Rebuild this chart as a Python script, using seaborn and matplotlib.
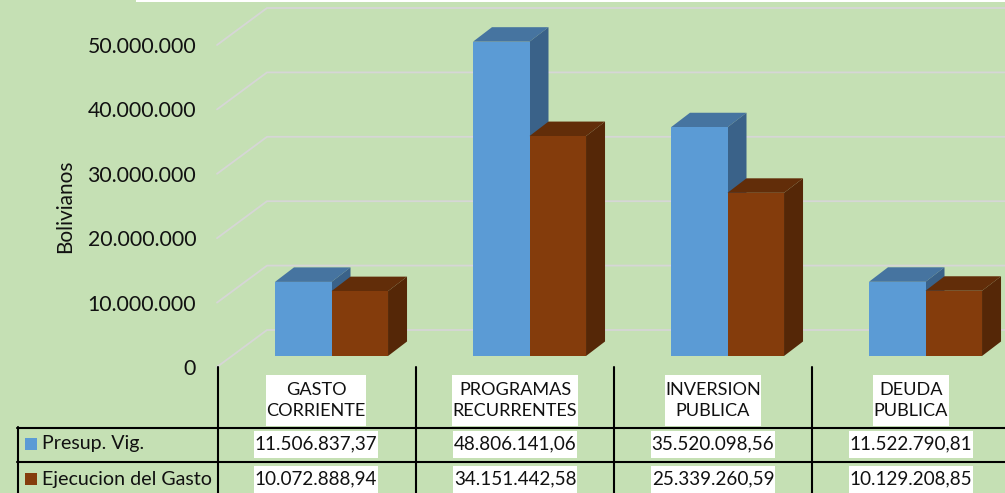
import numpy as np
import pandas as pd
import seaborn as sns
import matplotlib
matplotlib.use('Agg')
import matplotlib.pyplot as plt
from matplotlib.lines import Line2D
from matplotlib.patches import Polygon, Rectangle

# values
categories = ['GASTO\nCORRIENTE', 'PROGRAMAS\nRECURRENTES', 'INVERSION\nPUBLICA', 'DEUDA\nPUBLICA']
presup = [11506837.37, 48806141.06, 35520098.56, 11522790.81]
ejecucion = [10072888.94, 34151442.58, 25339260.59, 10129208.85]
presup_labels = ['11.506.837,37', '48.806.141,06', '35.520.098,56', '11.522.790,81']
ejecucion_labels = ['10.072.888,94', '34.151.442,58', '25.339.260,59', '10.129.208,85']
series_names = ['Presup. Vig.', 'Ejecucion del Gasto']
y_ticks = [0, 10000000, 20000000, 30000000, 40000000, 50000000]
y_tick_labels = ['0', '10.000.000', '20.000.000', '30.000.000', '40.000.000', '50.000.000']

W, H = 1005, 493
BG = '#C5E0B4'
GRID = '#D6D6D6'
BLUE, BLUE_TOP, BLUE_SIDE = '#5B9BD5', '#4674A0', '#3A6289'
BROWN, BROWN_TOP, BROWN_SIDE = '#843C0C', '#622D09', '#552707'

sns.set_theme(style='white')
plt.rcParams['font.family'] = ['Lato', 'DejaVu Sans']

fig = plt.figure(figsize=(W / 100, H / 100), dpi=100, facecolor=BG)


def fx(x):
    return x / W


def fy(y):
    return 1 - y / H


# back wall axes, x is in pixels so the wall depth can be given directly
wall = fig.add_axes([fx(217), fy(367), fx(1005 - 217), 322 / H], zorder=1)
wall.patch.set_visible(False)
wall.set_xlim(217, 1005)
wall.set_ylim(0, 50000000)
wall.set_xticks([])
wall.set_yticks(y_ticks)
wall.set_yticklabels(y_tick_labels, fontsize=15.3, color='#111111')
wall.tick_params(axis='y', length=0, pad=15)
sns.despine(ax=wall, left=True, bottom=True)
wall_depth = 37 / 322 * 50000000
for t in y_ticks:
    wall.plot([217, 267, 1005], [t, t + wall_depth, t + wall_depth], color=GRID, lw=1.3, clip_on=False)

# the bars, zero sits on the floor at pixel 356, 6.44 px per million
ax = fig.add_axes([0, 0, 1, 1], zorder=2)
ax.patch.set_visible(False)
df = pd.DataFrame({
    'cat': categories * 2,
    'serie': [series_names[0]] * 4 + [series_names[1]] * 4,
    'valor': presup + ejecucion,
})
sns.barplot(data=df, x='cat', y='valor', hue='serie', hue_order=series_names, order=categories,
            palette=[BLUE, BROWN], width=0.571, gap=0, saturation=1, legend=False, linewidth=0, ax=ax)
ax.set_xlim(-331.5 / 198, (W - 331.5) / 198)
px_per_val = 6.44 / 1000000
ax.set_ylim(-(H - 356) / px_per_val, 356 / px_per_val)
ax.axis('off')

# fake 3d: top and side of every bar, taken from the bar itself
dx = 19 / 198
dy = 14.5 / px_per_val
faces = [(BLUE_TOP, BLUE_SIDE)] * 4 + [(BROWN_TOP, BROWN_SIDE)] * 4
for i, (bar, (c_top, c_side)) in enumerate(zip(list(ax.patches), faces)):
    x0, w, h = bar.get_x(), bar.get_width(), bar.get_height()
    z = 2 if i < 4 else 3
    ax.add_patch(Polygon([(x0, h), (x0 + w, h), (x0 + w + dx, h + dy), (x0 + dx, h + dy)],
                         color=c_top, lw=0, zorder=z))
    ax.add_patch(Polygon([(x0 + w, 0), (x0 + w + dx, dy), (x0 + w + dx, h + dy), (x0 + w, h)],
                         color=c_side, lw=0, zorder=z))
    bar.set_zorder(z + 0.5)

# white strip along the top edge
fig.add_artist(Rectangle((fx(136), fy(2)), fx(W - 136), 2 / H, color='white', lw=0))

fig.text(fx(65), fy(206), 'Bolivianos', rotation=90, ha='center', va='center', fontsize=15, color='#111111')


def table_line(x0, y0, x1, y1):
    fig.add_artist(Line2D([fx(x0), fx(x1)], [fy(y0), fy(y1)], color='black', lw=1.5, zorder=5))


def boxed_text(x, y, s, box_h, pad_w, size):
    # white box behind the label, sized from the drawn text
    t = fig.text(fx(x), fy(y), s, ha='center', va='center', fontsize=size, color='#111111',
                 linespacing=1.35, zorder=7)
    box_w = t.get_window_extent(fig.canvas.get_renderer()).width + pad_w
    fig.add_artist(Rectangle((fx(x - box_w / 2), fy(y + box_h / 2)), box_w / W, box_h / H,
                             color='white', lw=0, zorder=6))


table_line(17, 427.5, W, 427.5)
table_line(17, 462, W, 462)
table_line(17.5, 427, 17.5, H)
for x in [217.5, 415.5, 613.5, 811.5]:
    table_line(x, 367, x, H)

centers = [316, 515, 713, 911]
for c, cat, p, e in zip(centers, categories, presup_labels, ejecucion_labels):
    boxed_text(c, 400.5, cat, 51, 1, 13.1)
    boxed_text(c, 444, p, 27, 2, 13.6)
    boxed_text(c, 479, e, 27, 2, 13.6)

for name, col, y in zip(series_names, [BLUE, BROWN], [444, 479]):
    fig.add_artist(Rectangle((fx(25), fy(y + 6)), 12 / W, 12 / H, color=col, lw=0))
    fig.text(fx(42), fy(y), name, ha='left', va='center', fontsize=14.1, color='#111111')

fig.savefig('out.png', dpi=100, facecolor=BG)
